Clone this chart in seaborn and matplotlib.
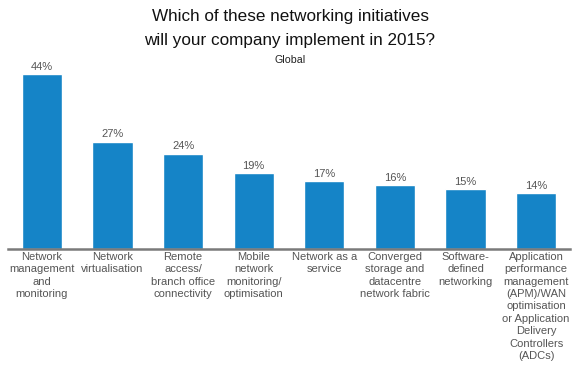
import matplotlib
matplotlib.use("Agg")
import matplotlib.pyplot as plt
import seaborn as sns
import pandas as pd

categories = [
    "Network\nmanagement\nand\nmonitoring",
    "Network\nvirtualisation",
    "Remote\naccess/\nbranch office\nconnectivity",
    "Mobile\nnetwork\nmonitoring/\noptimisation",
    "Network as a\nservice",
    "Converged\nstorage and\ndatacentre\nnetwork fabric",
    "Software-\ndefined\nnetworking",
    "Application\nperformance\nmanagement\n(APM)/WAN\noptimisation\nor Application\nDelivery\nControllers\n(ADCs)",
]
values = [44, 27, 24, 19, 17, 16, 15, 14]

sns.set_theme(style="white")
plt.rcParams["font.family"] = ["Liberation Sans", "DejaVu Sans"]

df = pd.DataFrame({"cat": categories, "val": values})

fig = plt.figure(figsize=(5.8, 3.7), dpi=100)
ax = fig.add_axes([8/580, (370-249)/370, 562/580, (249-74)/370])
sns.barplot(data=df, x="cat", y="val", color="#1584c7", saturation=1, width=0.57, ax=ax)
ax.set_xlim(-0.48, 7.48)
ax.set_ylim(0, 44)
for s in ["top", "right", "left"]:
    ax.spines[s].set_visible(False)
ax.spines["bottom"].set_color("#7a7a7a")
ax.spines["bottom"].set_linewidth(1.8)
ax.set_yticks([])
ax.set_xlabel("")
ax.set_ylabel("")
ax.tick_params(axis="x", length=0, pad=2)
ax.set_xticks(range(len(categories)))
ax.set_xticklabels(categories, fontsize=8, color="#555555", linespacing=1.3, va="top")
for i, v in enumerate(values):
    ax.text(i, v + 0.6, f"{v}%", ha="center", va="bottom", fontsize=8, color="#555555")
ax.patch.set_alpha(0)

fig.text(0.5, 1 - 17/370, "Which of these networking initiatives", ha="center", va="center", fontsize=12.3, color="#111111")
fig.text(0.5, 1 - 41/370, "will your company implement in 2015?", ha="center", va="center", fontsize=12.3, color="#111111")
fig.text(0.5, 1 - 60/370, "Global", ha="center", va="center", fontsize=7.7, color="#222222")

fig.savefig("out.png", dpi=100)
